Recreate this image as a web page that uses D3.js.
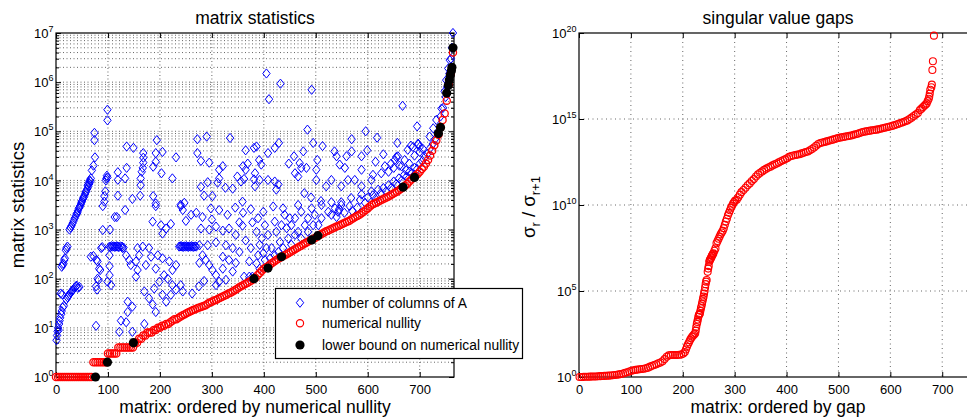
<!DOCTYPE html>
<html>
<head>
<meta charset="utf-8">
<script src="https://cdn.jsdelivr.net/npm/d3@7"></script>
<style>
body { margin: 0; background: #fff; }
svg text { font-family: "Liberation Sans", Arial, Helvetica, sans-serif; fill: #000; }
</style>
</head>
<body>
<svg id="chart" width="967" height="417"></svg>
<script>
"use strict";

// ---- left panel: matrix statistics ----
// [matrix rank, number of columns of A]
const columnsOfA = [
	[1,5.6],[2,7],[3,8.5],[4,10],[5,9],[6,12],[7,14],[8,16],[10,19],[11,22],[13,26],[15,28],[9,50],[12,48],
	[20,38],[22,42],[24,45],[26,48],[28,52],[30,55],[32,58],[34,62],[36,66],[38,70],[40,72],[42,65],[45,68],
	[11,175],[13,190],[14,205],[16,240],[17,260],[19,380],[20,420],[22,450],
	[26,1000],[28,1100],[30,1200],[32,1350],[34,1500],[36,1700],[38,1900],[40,2100],[41,2200],[42,2400],
	[44,2700],[45,2800],[46,3000],[48,3300],[49,3600],[50,3800],[52,4200],[53,4500],[54,4700],[56,5300],
	[57,5800],[58,6000],[60,6700],[61,8000],[62,7500],[63,9000],[64,8500],[65,10000],[66,9500],[67,11000],
	[69,16000],[72,20000],[75,29500],[74,66000],[74,93000],
	[77,11],[72,290],[67,280],[78,240],[80,225],[83,160],[85,150],[80,100],[82,94],[77,70],[79,60],[87,420],
	[89,440],[90,980],[90,3000],[93,3700],[93,4800],[95,6000],[96,10000],[97,11000],[98,12500],[99,11500],
	[99,167000],[99,275000],[104,1000],[113,1800],
	[103,450],[105,440],[107,460],[109,450],[111,455],[113,445],[115,450],[117,460],[119,450],[121,440],
	[124,455],[127,450],[130,430],
	[103,300],[103,180],[103,118],[106,74],[99,87],[128,420],[135,300],[141,240],[144,190],[154,225],[157,150],
	[154,110],[157,420],[167,450],[160,300],[179,420],[173,190],[183,280],[170,55],[138,34],[147,27],[138,21],
	[125,14],[135,13],[122,8.3],[147,8.3],[170,12],[117,1800],[133,2500],
	[119,14700],[119,10300],[119,4900],[136,49000],[149,46000],[136,18000],[133,11000],[147,4200],[162,4900],
	[168,36000],[168,29000],[168,23000],[167,18000],[165,15000],[163,11000],[163,8000],
	[194,66000],[192,36000],[205,38000],[192,24000],[187,19000],[203,14000],[187,4800],[192,3400],[224,11000],
	[231,29500],[247,3500],[240,3200],[192,3000],[186,1450],[202,1230],[212,1050],[221,1300],[205,830],
	[240,3000],[244,2500],[189,63],[199,87],[205,47],[212,34],[186,30],[192,21],[179,40],[208,118],[215,100],
	[224,74],[221,47],[231,60],[240,74],[244,55],[196,300],[205,260],[218,225],[231,190],[224,150],[192,160],
	[237,450],[239,455],[241,460],[243,450],[245,445],[247,455],[249,450],[251,460],[253,450],[255,445],
	[257,455],[259,450],[261,460],[263,450],[265,445],[268,455],[270,450],
	[282,1800],[298,2700],[314,2500],[279,1050],[295,1000],[308,1150],[321,950],[333,1050],[346,780],[353,1400],
	[359,1200],[378,1400],[282,300],[288,240],[295,190],[276,210],[301,150],[308,118],[321,160],[314,87],
	[308,74],[327,95],[340,140],[346,210],[333,240],[321,280],[353,350],[372,225],[362,110],[372,110],[378,110],
	[276,480],[292,480],[308,550],[327,480],[340,420],[365,600],[375,420],[262,50],[275,70],[285,90],
	[272,69000],[290,78000],[272,36000],[279,25000],[295,23000],[279,7400],[292,9200],[285,4900],[301,4800],
	[314,16500],[321,19500],[314,11000],[311,9000],[326,7100],[335,73000],[340,6800],[349,12000],[360,19500],
	[365,16500],[369,22000],[365,41000],[362,10700],[356,9500],[381,46000],[381,10500],[359,3700],[260,2000],
	[270,2200],[300,1600],[330,2000],[345,2800],[360,2200],[375,2600],[250,1500],
	[405,1.5e6],[432,9.3e5],[410,4.5e5],[492,7e5],[484,1.08e5],[495,5.8e4],[513,5e4],[429,5.8e4],[421,4.6e4],
	[408,3.6e4],[386,4.9e4],[476,3.9e4],[458,3.1e4],[503,2.6e4],[391,2.6e4],[395,2.1e4],[448,2.2e4],
	[469,2.25e4],[472,1.8e4],[482,1.8e4],[501,1.65e4],[383,1.4e4],[392,1.02e4],[408,1.02e4],[383,7.6e3],
	[421,9.5e3],[428,8.3e3],[424,6.5e3],[460,1.4e4],[466,1.2e4],[501,1.02e4],[520,7.6e3],[530,1.02e4],
	[478,5.5e3],[491,4.5e3],[510,3.8e3],
	[389,1700],[386,900],[392,490],[389,300],[386,205],[396,660],[402,1230],[408,780],[415,420],[412,260],
	[421,1450],[424,900],[431,560],[428,350],[440,2000],[444,1070],[447,660],[453,1230],[460,1700],[466,900],
	[472,2300],[479,1230],[485,1700],[492,2700],[498,2000],[511,3160],[505,1230],[524,2300],[537,2700],
	[549,3160],[437,2700],[466,3160],[399,2300],[418,2950],[392,160],[402,240],[421,300],[437,420],[453,490],
	[472,660],[460,780],[485,900],[495,1230],[511,1700],[530,2000],[543,2300],[405,420],[399,330],[434,1230],
	[450,1700],
	[536,3.9e4],[540,3.1e4],[569,3.9e4],[559,3.1e4],[599,4.1e4],[588,3.1e4],[657,5.8e4],[683,5.1e4],
	[697,5.4e4],[706,4.4e4],[546,2.1e4],[556,1.8e4],[588,1.65e4],[610,1.3e4],[607,1.02e4],[633,1.95e4],
	[626,1.4e4],[645,2.2e4],[652,2.6e4],[658,3.1e4],[665,1.95e4],[671,2.6e4],[677,4.2e4],[596,1e5],
	[618,7.4e4],[569,6.9e4],[667,3.3e5],[695,1.26e5],[549,7.6e3],[562,1.02e4],[575,1.02e4],[588,7.6e3],
	[530,3600],[549,3600],[568,4400],[588,5200],[607,6000],
	[540,1800],[545,2600],[555,2200],[565,3000],[570,2400],[580,2800],[585,4000],[595,3500],[600,4500],
	[610,5000],[615,4200],[620,6500],[625,5500],[630,7000],[635,6000],[640,8000],[645,7000],[650,9500],
	[655,8500],[660,11000],[665,10000],[670,13000],[675,12000],[680,15000],[685,14000],[690,18000],
	[695,17000],[700,22000],[705,25000],[710,30000],[715,35000],[720,45000],[725,55000],[730,70000],[735,90000],
	[764,1e7],[758,2.8e6],[755,1.9e6],[751,1.1e6],[748,6.5e5],[742,2.9e5],[732,1.7e5],[726,1.15e5],[719,7.8e4],
	[697,5.6e4],[687,4.8e4],[700,4.8e4],[655,3e4],[661,2e4],[674,1.6e4],
	[615,2.4e4],[640,1.5e4],[650,1.8e4],[680,2.2e4],[690,3.2e4],[700,3.8e4],[630,3.4e4],
	[740,2e5],[745,3e5],[750,5e5],[753,8e5],[757,1.5e6],[760,3e6],[762,5e6]
];

// numerical nullity, sorted, one reading every nullityStep matrices
const nullityStep = 4;
const nullity = [
	1,1,1,1,1,1,1,1,1,1,1,1,1,1,1,1,1,1,
	2,2,2,2,2,2,2,
	3,3,3,3,3,
	4,4,4,4,4,4,4,4,
	5,5,6,6,7,7,8,8,8,9,9,10,10,11,11,12,12,13,14,15,15,16,17,18,19,20,21,22,23,24,25,26,27,28,29,
	31,33,34,36,37,39,41,43,45,47,50,52,55,58,62,66,70,74,78,82,87,92,98,
	105,118,130,145,160,170,180,195,210,225,240,255,270,285,300,315,335,355,375,400,420,445,470,500,
	530,560,590,620,650,690,740,780,820,870,920,960,1000,1050,1100,1150,1200,1260,1320,1380,1440,1500,
	1600,1700,1800,1900,2000,2150,2300,2500,2700,2950,3200,3350,3500,3700,3900,4100,4300,4500,4700,
	5000,5300,5600,5900,6300,6800,7300,7800,8500,9500,10500,11500,12500,13500,15000,17000,19000,22000,
	26000,32000,40000,52000,65000,85000,120000,170000,230000,420000,900000,1500000,4000000
];

// [matrix rank, lower bound on numerical nullity]
const lowerBound = [
	[76,1],[99,2],[149,5],[381,100],[408,165],[434,280],[492,615],[504,750],[668,7300],[690,11500],
	[736,9e4],[740,1.2e5],[752,6e5],[755,8.5e5],[757,1.1e6],[759,1.4e6],[761,1.7e6],[762,2e6],[764,5e6]
];

// ---- right panel: singular value gaps ----
// [matrix rank, sigma_r / sigma_r+1]
const gaps = [
	[1,1.0],[5,1.0],[9,1.02],[13,1.03],[17,1.04],[21,1.05],[25,1.06],[29,1.07],[33,1.08],[37,1.1],[41,1.12],
	[45,1.14],[49,1.16],[53,1.18],[57,1.2],[61,1.23],[65,1.26],[69,1.3],[73,1.35],[77,1.42],[81,1.5],[85,1.6],
	[89,1.75],[93,1.9],[97,2.1],[101,2.3],[105,2.45],[109,2.6],[113,2.7],[117,2.8],[121,2.9],[125,3.0],
	[129,3.2],[133,3.5],[137,4.0],[141,4.5],[145,5.0],[149,5.5],[153,6.3],[157,7.0],[161,8.3],[165,11],
	[169,15],[173,18],[177,19],[181,19],[185,19],[189,19],[193,19.5],[197,20],[201,23],[204,28],
	[206,40],[208,58],[210,80],[212,105],[214,140],[216,180],[218,220],[220,260],[222,300],[224,350],
	[225,500],[226,800],[227,1.2e3],[228,1.6e3],[229,2.2e3],[230,3.2e3],[231,4e3],[232,4.5e3],[233,5e3],
	[234,7e3],[235,1e4],[236,1.3e4],[237,1.8e4],[238,2.5e4],[239,3.5e4],[240,4.7e4],[241,7e4],[242,1e5],
	[243,1.6e5],[244,2.5e5],[245,3.5e5],[246,4.4e5],[248,1.3e6],[249,2e6],[250,2.8e6],[251,5e6],[252,6e6],
	[253,7e6],[254,8e6],[255,9e6],[256,1.1e7],[257,1.2e7],[258,1.4e7],[259,1.55e7],[261,2.2e7],[263,3e7],
	[265,6e7],[267,8e7],[269,1.1e8],[271,1.45e8],[273,2e8],[275,2.5e8],[277,3.2e8],[279,4.5e8],[281,7e8],
	[283,1.1e9],[285,1.6e9],[287,2.5e9],[289,3.5e9],[291,5e9],[293,7e9],[295,9e9],[297,1.2e10],[299,1.5e10],
	[301,1.8e10],[304,2e10],[307,2.8e10],[310,4e10],[313,5.6e10],[317,7.4e10],[321,1e11],[325,1.4e11],
	[329,1.8e11],[333,2.5e11],[337,3.2e11],[341,4.5e11],[345,6e11],[349,7.5e11],[353,9e11],[357,1.1e12],
	[361,1.3e12],[365,1.5e12],[369,1.7e12],[373,2e12],[377,2.3e12],[381,2.6e12],[385,3e12],[389,3.5e12],
	[393,4e12],[397,4.5e12],[401,5.2e12],[405,6.3e12],[409,7e12],[413,7.5e12],[417,8e12],[421,8.5e12],
	[425,9e12],[429,1e13],[433,1.1e13],[437,1.2e13],[441,1.3e13],[445,1.5e13],[449,1.8e13],[453,2.2e13],
	[457,2.8e13],[461,3.5e13],[465,4e13],[469,4.3e13],[473,4.6e13],[477,5e13],[481,5.4e13],[485,5.8e13],
	[489,6.3e13],[493,6.9e13],[497,7.5e13],[501,8e13],[505,8.5e13],[509,9e13],[513,9.5e13],[517,1e14],
	[521,1.05e14],[525,1.1e14],[529,1.2e14],[533,1.3e14],[537,1.4e14],[541,1.55e14],[545,1.7e14],[549,1.8e14],
	[553,1.9e14],[557,2e14],[561,2.1e14],[565,2.2e14],[569,2.3e14],[573,2.4e14],[577,2.5e14],[581,2.7e14],
	[585,2.9e14],[589,3.1e14],[593,3.3e14],[597,3.5e14],[601,3.8e14],[605,4.1e14],[609,4.5e14],[613,5e14],
	[617,5.4e14],[621,6e14],[625,6.6e14],[629,7.4e14],[633,8.3e14],[637,1e15],[641,1.2e15],[645,1.5e15],
	[649,1.8e15],[653,2.2e15],[657,3.3e15],[660,4e15],[663,5e15],[666,6e15],[668,7e15],[670,8e15],
	[672,1.1e16],[674,1.5e16],[675,2e16],[676,3e16],[677,5e16],[679,7e16],[680,1e17],[681,7e17],
	[682,2.3e18],[684,7e19]
];

const xTicks = [0, 100, 200, 300, 400, 500, 600, 700];
const leftYExponents = [0, 1, 2, 3, 4, 5, 6, 7];
const rightYExponents = [0, 5, 10, 15, 20];
const legendLabels = ["number of columns of A", "numerical nullity", "lower bound on numerical nullity"];

const svg = d3.select("#chart");
svg.append("rect").attr("width", 967).attr("height", 417).attr("fill", "#fff");

const diamond = "M0,-4.6L3.7,0L0,4.6L-3.7,0Z";

function drawPanel(opt) {
	const x = d3.scaleLinear().domain(opt.xDomain).range([opt.left, opt.right]);
	const y = d3.scaleLog().domain(opt.yDomain).range([opt.bottom, opt.top]);
	const g = svg.append("g");

	// dotted grid
	g.append("g").selectAll("line").data(xTicks.filter(d => d > 0)).join("line")
		.attr("x1", d => x(d)).attr("x2", d => x(d))
		.attr("y1", opt.top).attr("y2", opt.bottom)
		.attr("stroke", "#666").attr("stroke-dasharray", opt.dash);
	g.append("g").selectAll("line").data(opt.yGrid).join("line")
		.attr("x1", opt.left).attr("x2", opt.right)
		.attr("y1", d => y(d)).attr("y2", d => y(d))
		.attr("stroke", "#666").attr("stroke-dasharray", opt.dash);

	// box
	g.append("rect")
		.attr("x", opt.left).attr("y", opt.top)
		.attr("width", opt.right - opt.left).attr("height", opt.bottom - opt.top)
		.attr("fill", "none").attr("stroke", "#000").attr("stroke-width", 1.2);

	const font = '"Liberation Sans", Arial, Helvetica, sans-serif';
	const majors = opt.yExponents.map(e => Math.pow(10, e));

	const bottomAxis = g.append("g").attr("transform", `translate(0,${opt.bottom})`)
		.call(d3.axisBottom(x).tickValues(xTicks).tickSize(-5).tickSizeOuter(0).tickPadding(7.5).tickFormat(d3.format("d")));
	bottomAxis.attr("font-size", 13).attr("font-family", font);
	g.append("g").attr("transform", `translate(0,${opt.top})`)
		.call(d3.axisTop(x).tickValues(xTicks).tickSize(-5).tickSizeOuter(0).tickFormat(""));

	const leftAxis = g.append("g").attr("transform", `translate(${opt.left},0)`)
		.call(d3.axisLeft(y).tickValues(majors).tickSize(-5).tickSizeOuter(0).tickPadding(2.5));
	leftAxis.attr("font-size", 13).attr("font-family", font);
	leftAxis.selectAll(".tick text").each(function (d, i) {
		const t = d3.select(this);
		t.text(null).attr("dy", "0.36em");
		t.append("tspan").text("10");
		t.append("tspan").attr("dy", -6).attr("font-size", 9).text(opt.yExponents[i]);
	});
	g.append("g").attr("transform", `translate(${opt.right},0)`)
		.call(d3.axisRight(y).tickValues(majors).tickSize(-5).tickSizeOuter(0).tickFormat(""));

	if (opt.minorY.length) {
		g.append("g").attr("transform", `translate(${opt.left},0)`)
			.call(d3.axisLeft(y).tickValues(opt.minorY).tickSize(-3).tickSizeOuter(0).tickFormat(""));
		g.append("g").attr("transform", `translate(${opt.right},0)`)
			.call(d3.axisRight(y).tickValues(opt.minorY).tickSize(-3).tickSizeOuter(0).tickFormat(""));
	}
	g.selectAll(".domain").remove();
	g.selectAll(".tick line").attr("stroke", "#000");

	// titles and labels
	const cx = (opt.left + opt.right) / 2;
	svg.append("text").attr("x", cx).attr("y", 24).attr("text-anchor", "middle")
		.attr("font-size", 17.5).text(opt.title);
	svg.append("text").attr("x", cx).attr("y", 413).attr("text-anchor", "middle")
		.attr("font-size", 17.5).text(opt.xLabel);

	return {x, y};
}

// ---- left ----
const allMinor = d3.scaleLog().domain([1, 1e7]).ticks();
const leftMinor = allMinor.filter(v => Math.abs(Math.log10(v) - Math.round(Math.log10(v))) > 1e-9);

const L = drawPanel({
	left: 56, right: 454, top: 33, bottom: 377,
	xDomain: [0, 766], yDomain: [1, 1e7],
	yExponents: leftYExponents,
	yGrid: allMinor.filter(v => v > 1 && v < 1e7),
	minorY: leftMinor,
	dash: "1,2.5",
	title: "matrix statistics",
	xLabel: "matrix: ordered by numerical nullity"
});

svg.append("text")
	.attr("transform", "translate(24,205) rotate(-90)")
	.attr("text-anchor", "middle").attr("font-size", 18.5)
	.text("matrix statistics");

svg.append("g").selectAll("path").data(columnsOfA).join("path")
	.attr("d", diamond)
	.attr("transform", d => `translate(${L.x(d[0])},${L.y(d[1])})`)
	.attr("fill", "none").attr("stroke", "#0000ff").attr("stroke-width", 1);

svg.append("g").selectAll("circle").data(nullity).join("circle")
	.attr("cx", (d, i) => L.x(i * nullityStep)).attr("cy", d => L.y(d)).attr("r", 3.6)
	.attr("fill", "none").attr("stroke", "#ff0000").attr("stroke-width", 1.3);

svg.append("g").selectAll("circle").data(lowerBound).join("circle")
	.attr("cx", d => L.x(d[0])).attr("cy", d => L.y(d[1])).attr("r", 4.6)
	.attr("fill", "#000");

// legend
const legend = svg.append("g");
legend.append("rect").attr("x", 275.5).attr("y", 288.5).attr("width", 247).attr("height", 70)
	.attr("fill", "#fff").attr("stroke", "#000").attr("stroke-width", 1.2);
const legendY = [302.7, 323.3, 345];
legend.append("path").attr("d", diamond).attr("transform", `translate(300,${legendY[0]})`)
	.attr("fill", "none").attr("stroke", "#0000ff");
legend.append("circle").attr("cx", 300).attr("cy", legendY[1]).attr("r", 3.6)
	.attr("fill", "none").attr("stroke", "#ff0000").attr("stroke-width", 1.2);
legend.append("circle").attr("cx", 300).attr("cy", legendY[2]).attr("r", 4.6).attr("fill", "#000");
legend.selectAll("text").data(legendLabels).join("text")
	.attr("x", 322).attr("y", (d, i) => legendY[i]).attr("dy", "0.35em")
	.attr("font-size", 13.8).text(d => d);

// ---- right ----
const R = drawPanel({
	left: 579, right: 977, top: 33, bottom: 377,
	xDomain: [0, 767], yDomain: [1, 1e20],
	yExponents: rightYExponents,
	yGrid: [1e5, 1e10, 1e15],
	minorY: [],
	dash: "1,3.5",
	title: "singular value gaps",
	xLabel: "matrix: ordered by gap"
});

const yLab = svg.append("text")
	.attr("transform", "translate(535,207) rotate(-90)")
	.attr("text-anchor", "middle").attr("font-size", 18.5);
yLab.append("tspan").text("σ");
yLab.append("tspan").attr("dy", 5).attr("font-size", 13).text("r");
yLab.append("tspan").attr("dy", -5).text(" / σ");
yLab.append("tspan").attr("dy", 5).attr("font-size", 13).text("r+1");

svg.append("g").selectAll("circle").data(gaps).join("circle")
	.attr("cx", d => R.x(d[0])).attr("cy", d => R.y(d[1])).attr("r", 3.5)
	.attr("fill", "none").attr("stroke", "#ff0000").attr("stroke-width", 1.1);
</script>
</body>
</html>
